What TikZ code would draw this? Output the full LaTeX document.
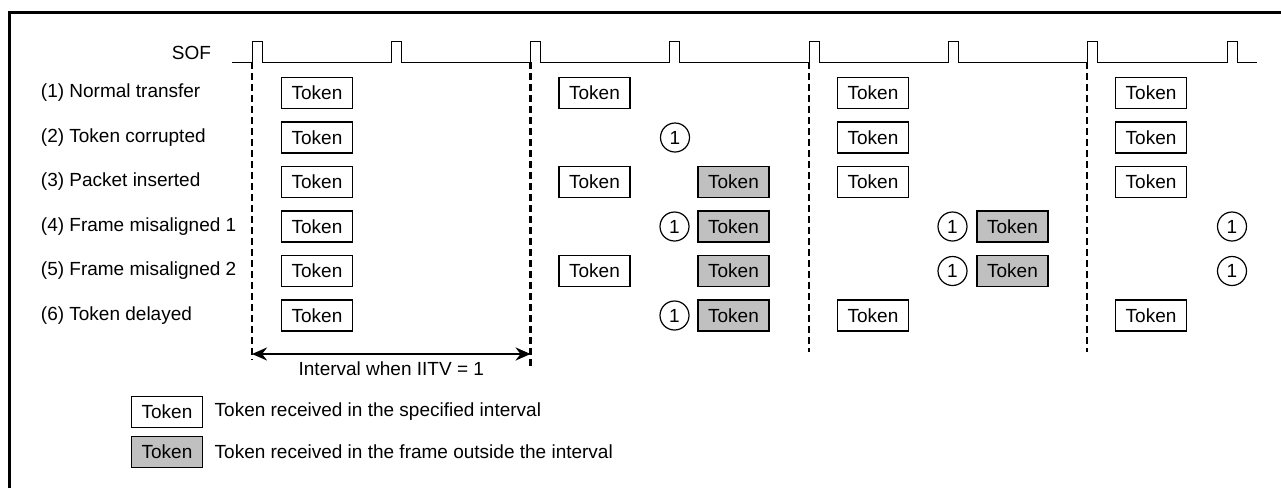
\documentclass[tikz,border=0pt]{standalone}
\usepackage{fontspec}
\setmainfont{Liberation Sans}
\usepackage{tikz}
\usetikzlibrary{arrows.meta,positioning}
\definecolor{lategray}{RGB}{192,192,192}

\begin{document}
\begin{tikzpicture}[x=1pt, y=-1pt,
  every node/.style={font=\fontsize{19}{22}\selectfont},
  tok/.style={draw, line width=1.3pt, rectangle, minimum width=71pt, minimum height=31pt, inner sep=0pt},
  late/.style={tok, fill=lategray},
  err/.style={draw, line width=1.2pt, circle, minimum size=29pt, inner sep=0pt},
  frm/.style={line width=2.4pt, dash pattern=on 7pt off 4pt}]
\useasboundingbox (0,0) rectangle (1281,488);
\draw[line width=3pt] (9.5,488) -- (9.5,12.7) -- (1281,12.7);
% SOF pulses
\node[anchor=east] (sof) at (214.5,53) {SOF};
\draw[line width=1pt] (232,62.3) \foreach \i in {0,...,7} { -- ({252+139.3*\i},62.3) -- ++(0,-21.3) -- ++(10,0) -- ++(0,21.3) } -- (1257,62.3);
% frame boundaries
\foreach \x/\e [count=\k] in {252/360, 530.6/370, 809/352, 1087/352} {
  \coordinate (f\k) at (\x,62.3);
  \coordinate (g\k) at (\x,\e);
  \draw[frm] (f\k) -- (g\k);
}
% rows
\node[anchor=west] (lab1) at (37.4,93) {(1) Normal transfer};
\node[anchor=west] (lab2) at (37.4,137.5) {(2) Token corrupted};
\node[anchor=west] (lab3) at (37.4,182) {(3) Packet inserted};
\node[anchor=west] (lab4) at (37.4,226.5) {(4) Frame misaligned 1};
\node[anchor=west] (lab5) at (37.4,271) {(5) Frame misaligned 2};
\node[anchor=west] (lab6) at (37.4,315.5) {(6) Token delayed};
\foreach \r in {1,...,6}
  \node[tok] (t\r a) at (317, {93+44.5*(\r-1)}) {Token};
% row 1
\node[tok] (t1b) at (594.5,93) {Token};
\node[tok] (t1c) at (873,93) {Token};
\node[tok] (t1d) at (1151,93) {Token};
% row 2
\node[err] (e2b) at (675,137.5) {1};
\node[tok] (t2c) at (873,137.5) {Token};
\node[tok] (t2d) at (1151,137.5) {Token};
% row 3
\node[tok] (t3b) at (594.5,182) {Token};
\node[late] (l3b) at (733.5,182) {Token};
\node[tok] (t3c) at (873,182) {Token};
\node[tok] (t3d) at (1151,182) {Token};
% row 4
\node[err] (e4b) at (674.5,226.5) {1};
\node[late] (l4b) at (733.5,226.5) {Token};
\node[err] (e4c) at (952.5,226.5) {1};
\node[late] (l4c) at (1012.5,226.5) {Token};
\node[err] (e4d) at (1232,226.5) {1};
% row 5
\node[tok] (t5b) at (594.5,271) {Token};
\node[late] (l5b) at (733.5,271) {Token};
\node[err] (e5c) at (952.5,271) {1};
\node[late] (l5c) at (1012.5,271) {Token};
\node[err] (e5d) at (1232,271) {1};
% row 6
\node[err] (e6b) at (674.5,315.5) {1};
\node[late] (l6b) at (733.5,315.5) {Token};
\node[tok] (t6c) at (873,315.5) {Token};
\node[tok] (t6d) at (1151,315.5) {Token};
% interval
\coordinate (a1) at (252,354);
\coordinate (a2) at (530.6,354);
\draw[{Stealth[length=15pt,width=13pt]}-{Stealth[length=15pt,width=13pt]}, line width=2.5pt] (a1) -- (a2) node[midway, below=3pt] (ivl) {Interval when IITV = 1};
% legend
\node[tok] (k1) at (167,412) {Token};
\node[right=8pt of k1] (k1txt) {Token received in the specified interval};
\node[late] (k2) at (167,452) {Token};
\node[right=8pt of k2] (k2txt) {Token received in the frame outside the interval};
\end{tikzpicture}
\end{document}
